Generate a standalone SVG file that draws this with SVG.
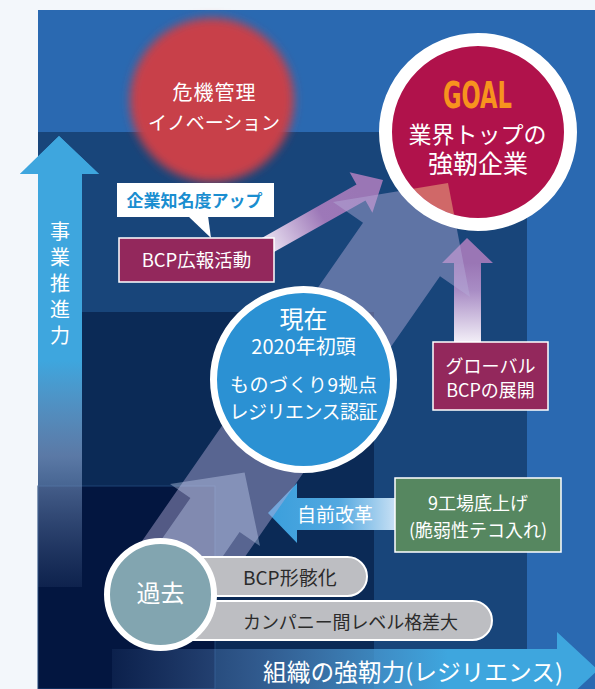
<svg xmlns="http://www.w3.org/2000/svg" width="595" height="689" viewBox="0 0 595 689">
<defs>
<style>
.t{font-family:"Noto Sans CJK JP","Noto Sans",sans-serif;fill:#fff;text-anchor:middle}
.d{fill:#2b2b2b}
.box{stroke:#fff;stroke-width:1.5}
.mar{fill:#93285c}
.pill{fill:#bdbec2;stroke:#fff;stroke-width:2}
</style>
<linearGradient id="gV" gradientUnits="userSpaceOnUse" x1="0" y1="174" x2="0" y2="589">
<stop offset="0" stop-color="#3ea6de"/>
<stop offset="0.45" stop-color="#3ea6de"/>
<stop offset="0.68" stop-color="#7d9bc8" stop-opacity="0.7"/>
<stop offset="1" stop-color="#5a75a5" stop-opacity="0.12"/>
</linearGradient>
<linearGradient id="gH" gradientUnits="userSpaceOnUse" x1="112" y1="0" x2="560" y2="0">
<stop offset="0" stop-color="#5a80b8" stop-opacity="0.1"/>
<stop offset="0.3" stop-color="#5a8cc8" stop-opacity="0.45"/>
<stop offset="0.75" stop-color="#3ea6de"/>
<stop offset="1" stop-color="#3ea6de"/>
</linearGradient>
<linearGradient id="gL1" gradientUnits="userSpaceOnUse" x1="268" y1="250" x2="360" y2="196">
<stop offset="0" stop-color="#ece4f3"/>
<stop offset="0.6" stop-color="#9d78b8"/>
<stop offset="1" stop-color="#9a76b5"/>
</linearGradient>
<linearGradient id="gL2" gradientUnits="userSpaceOnUse" x1="0" y1="263" x2="0" y2="342">
<stop offset="0" stop-color="#9a76b5"/>
<stop offset="0.35" stop-color="#a98dc5"/>
<stop offset="1" stop-color="#f2eef7"/>
</linearGradient>
<linearGradient id="gJ" gradientUnits="userSpaceOnUse" x1="268" y1="0" x2="396" y2="0">
<stop offset="0" stop-color="#3a9fdc"/>
<stop offset="0.55" stop-color="#52a8e0"/>
<stop offset="1" stop-color="#c8e0f4"/>
</linearGradient>
<filter id="blur" x="-20%" y="-20%" width="140%" height="140%">
<feGaussianBlur stdDeviation="5"/>
</filter>
<clipPath id="goalClip"><circle cx="478" cy="132" r="86"/></clipPath>
</defs>

<!-- background -->
<rect x="0" y="0" width="595" height="689" fill="#f3f7fb"/>
<rect x="38" y="10" width="557" height="679" fill="#2a69b1"/>
<rect x="38" y="132" width="489" height="557" fill="#18457a"/>
<rect x="38" y="312" width="336" height="377" fill="#0b2a56"/>
<rect x="38" y="486" width="177" height="203" fill="#031640" stroke="#1f4275" stroke-width="1"/>

<!-- axes -->
<g id="axis-vertical">
<polygon points="59,136 99,174 82,174 82,587 38,587 38,174 20,174" fill="url(#gV)"/>
<polygon points="59,136 99,174 20,174" fill="#3ea6de"/>
<text class="t" x="60" y="221" font-size="20" style="writing-mode:vertical-rl;text-anchor:start;letter-spacing:6px">事業推進力</text>
</g>
<g id="axis-horizontal">
<polygon points="112,649 557,649 557,632 598,670 557,708 112,708" fill="url(#gH)"/>
<text class="t" x="263" y="681" font-size="23.5" style="text-anchor:start" textLength="300" lengthAdjust="spacingAndGlyphs">組織の強靭力(レジリエンス)</text>
</g>

<!-- crisis circle -->
<g id="node-innovation">
<circle cx="212" cy="100" r="82" fill="#c8404a" filter="url(#blur)"/>
<text class="t" x="214" y="99.5" font-size="20" textLength="83">危機管理</text>
<text class="t" x="214" y="129.5" font-size="19" textLength="132">イノベーション</text>
</g>

<!-- connectors -->
<g id="connectors">
<polygon points="256.5,241 356.5,184.6 349.6,172.2 383,180 372.4,212.8 365.5,200.4 265.5,256.8" fill="url(#gL1)"/>
<polygon points="454,342 454,263 442,263 467,238 493,263 481,263 481,342" fill="url(#gL2)"/>
<polygon points="268,513 297,483 297,498 396,498 396,530 297,530 297,543" fill="url(#gJ)"/>
<polygon points="124,567 363,222.7 333,202 448,183 470,297 440,276.3 201,620" fill="#b5acd9" fill-opacity="0.45"/>
<polygon points="144.8,563.6 190.4,498 170,484 244.6,472.4 260,546 239.6,532 194,598" fill="#ccd9f6" fill-opacity="0.38"/>
<text class="t" x="335" y="522" font-size="19">自前改革</text>
</g>

<!-- goal -->
<g id="node-goal">
<circle cx="478" cy="132" r="92.5" fill="#b0124b"/>
<polygon points="333,202 448,183 470,297" fill="#d06868" clip-path="url(#goalClip)"/>
<circle cx="478" cy="132" r="92.5" fill="none" stroke="#fff" stroke-width="13"/>
<text x="477.5" y="108" font-family="'DejaVu Sans Condensed','Liberation Sans Narrow','Liberation Sans',sans-serif" font-weight="bold" font-size="38" fill="#f7931e" text-anchor="middle" textLength="69" lengthAdjust="spacingAndGlyphs">GOAL</text>
<text class="t" x="477.5" y="142.7" font-size="23">業界トップの<tspan x="478" y="173" font-size="25">強靭企業</tspan></text>
</g>

<g id="node-awareness">
<rect x="117" y="183" width="157" height="34" fill="#fff"/>
<polygon points="188,216 208,216 211,238" fill="#fff"/>
<text class="t" x="194.5" y="206.5" font-size="17" font-weight="bold" style="fill:#1a8ed0">企業知名度アップ</text>
</g>

<g id="node-pr">
<rect class="box mar" x="119" y="238" width="155" height="44"/>
<text class="t" x="196.5" y="267" font-size="18.5">BCP広報活動</text>
</g>

<g id="node-global">
<rect class="box mar" x="433" y="342" width="115" height="68"/>
<text class="t" x="490.5" y="373" font-size="18">グローバル</text>
<text class="t" x="490.5" y="397" font-size="18">BCPの展開</text>
</g>

<g id="node-factory">
<rect class="box" x="395" y="478" width="166" height="74" fill="#568760"/>
<text class="t" x="478" y="510" font-size="18">9工場底上げ</text>
<text class="t" x="478" y="537" font-size="18">(脆弱性テコ入れ)</text>
</g>

<g id="node-now">
<circle cx="303.5" cy="379.5" r="90" fill="#2b91d3" stroke="#fff" stroke-width="7"/>
<text class="t" x="303.5" y="328" font-size="24">現在<tspan x="303.5" y="353.6" font-size="20">2020年初頭</tspan></text>
<text class="t" x="303.5" y="392.4" font-size="19" textLength="147">ものづくり9拠点</text>
<text class="t" x="303.5" y="419.4" font-size="19" textLength="148">レジリエンス認証</text>
</g>

<g id="node-past">
<path class="pill" d="M180 557 H347.5 A19.5 19.5 0 0 1 347.5 596 H180 Z"/>
<path class="pill" d="M180 601 H472.5 A19.5 19.5 0 0 1 472.5 640 H180 Z"/>
<circle cx="160.5" cy="594.5" r="53.5" fill="#82a5b0" stroke="#fff" stroke-width="6"/>
<text class="t" x="160.5" y="602" font-size="24">過去</text>
<text class="t d" x="243" y="585" font-size="19" style="text-anchor:start">BCP形骸化</text>
<text class="t d" x="243" y="628.5" font-size="18" style="text-anchor:start" textLength="215">カンパニー間レベル格差大</text>
</g>
</svg>
